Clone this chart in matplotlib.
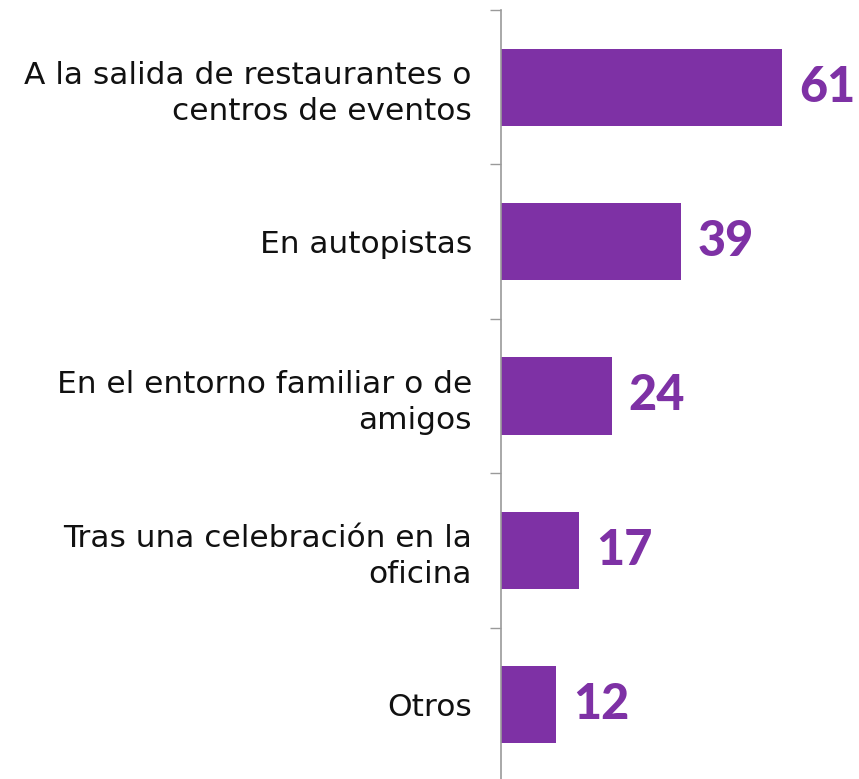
import matplotlib
matplotlib.use("Agg")
import matplotlib.pyplot as plt
import numpy as np

categories = [
    "A la salida de restaurantes o\ncentros de eventos",
    "En autopistas",
    "En el entorno familiar o de\namigos",
    "Tras una celebración en la\noficina",
    "Otros",
]
values = [61, 39, 24, 17, 12]

purple = "#7E31A5"
grey = "#9a9a9a"

fig = plt.figure(figsize=(8.59, 7.79), dpi=100)
ax = fig.add_axes([501 / 859, -3 / 779, 323 / 859, 772 / 779])

y = np.arange(len(categories))
ax.barh(y, values, height=0.5, color=purple)
ax.set_xlim(0, 70)
ax.set_ylim(len(categories) - 0.5, -0.5)

for yi, v in zip(y, values):
    ax.annotate(str(v), (v, yi), xytext=(12, 0), textcoords="offset points",
                va="center", ha="left", color=purple, fontsize=35,
                family="Lato", fontweight="black", annotation_clip=False)

ax.set_yticks(y)
ax.set_yticklabels(categories, fontsize=22.5, color="#111111", linespacing=1.3)
ax.tick_params(axis="y", which="major", length=0, pad=21)
ax.set_yticks(np.arange(len(categories) + 1) - 0.5, minor=True)
ax.tick_params(axis="y", which="minor", length=8, width=1, color=grey)
ax.set_xticks([])

for s in ["top", "right", "bottom"]:
    ax.spines[s].set_visible(False)
ax.spines["left"].set_color(grey)
ax.spines["left"].set_linewidth(1.2)

fig.savefig("out.png", dpi=100)
